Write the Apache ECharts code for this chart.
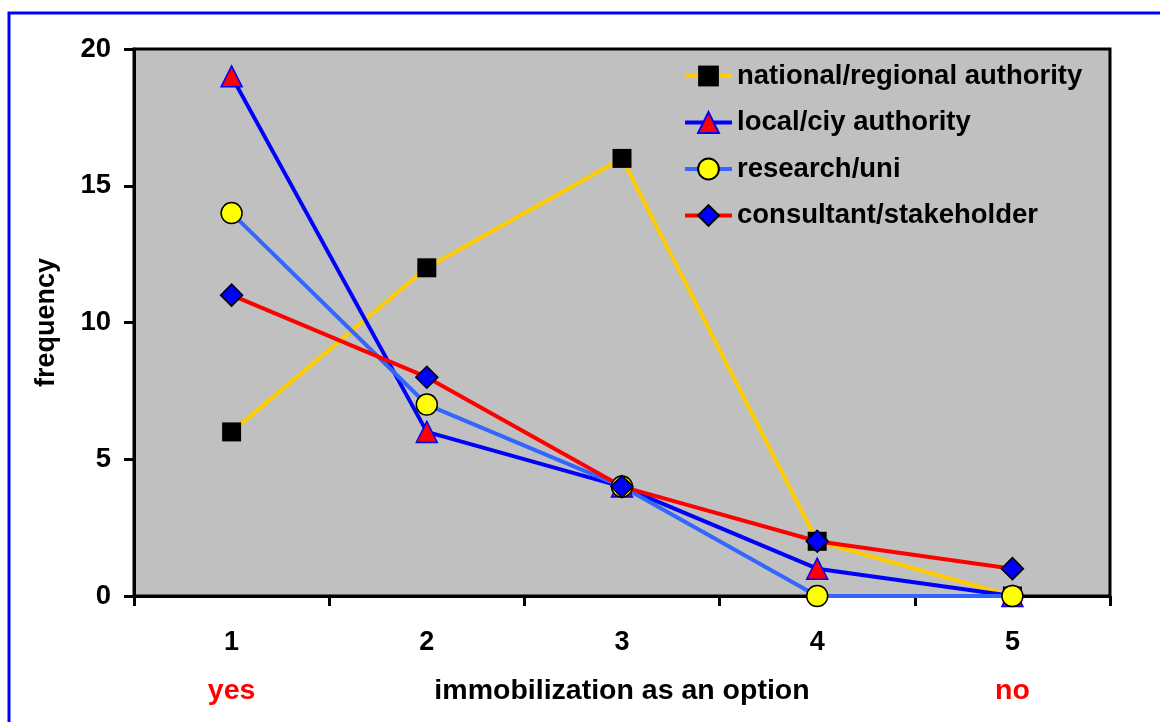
<!DOCTYPE html>
<html>
<head>
<meta charset="utf-8">
<script src="https://cdn.jsdelivr.net/npm/echarts@6/dist/echarts.min.js"></script>
<style>
html,body{margin:0;padding:0;background:#fff;}
#chart{width:1160px;height:722px;}
</style>
</head>
<body>
<div id="chart"></div>
<script>
const categories = ['1', '2', '3', '4', '5'];
const scaleLabels = ['yes', '', 'immobilization as an option', '', 'no'];
const seriesNames = ['national/regional authority', 'local/ciy authority', 'research/uni', 'consultant/stakeholder'];
const national = [6, 12, 16, 2, 0];
const local = [19, 6, 4, 1, 0];
const research = [14, 7, 4, 0, 0];
const consultant = [11, 8, 4, 2, 1];
const yMin = 0, yMax = 20, yStep = 5;

const FONT = '"Liberation Sans", Arial, sans-serif';
const chart = echarts.init(document.getElementById('chart'));

function mkSeries(name, data, lineColor, symbol, size, fill, border, bw) {
  return {
    name: name, type: 'line', data: data, clip: false,
    symbol: symbol, symbolSize: size,
    lineStyle: { color: lineColor, width: 4 },
    itemStyle: { color: fill, borderColor: border, borderWidth: bw },
    emphasis: { disabled: true },
    animation: false
  };
}

chart.setOption({
  animation: false,
  backgroundColor: '#ffffff',
  textStyle: { fontFamily: FONT },
  graphic: [{
    type: 'rect', silent: true,
    shape: { x: 9, y: 13, width: 1300, height: 900 },
    style: { fill: 'none', stroke: '#0000ff', lineWidth: 3 }
  }],
  grid: {
    left: 134, right: 50, top: 49, bottom: 126,
    show: true, backgroundColor: '#c0c0c0', borderColor: '#000', borderWidth: 3
  },
  legend: {
    orient: 'vertical', left: 683, top: 62, padding: 0,
    itemWidth: 47, itemHeight: 26, itemGap: 18.5,
    lineStyle: { width: 4 },
    textStyle: { fontFamily: FONT, fontWeight: 'bold', fontSize: 27.5, color: '#000' },
    data: seriesNames
  },
  xAxis: {
    type: 'category', data: categories, boundaryGap: true,
    axisLine: { lineStyle: { color: '#000', width: 3 } },
    axisTick: { show: true, length: 10, lineStyle: { color: '#000', width: 3 } },
    axisLabel: {
      interval: 0, margin: 23,
      formatter: function (v, i) {
        const s = scaleLabels[i];
        const style = (s === 'yes' || s === 'no') ? 'red' : 'blk';
        return '{n|' + v + '}\n{' + style + '|' + (s || ' ') + '}';
      },
      rich: {
        n: { fontFamily: FONT, fontWeight: 'bold', fontSize: 27, color: '#000', lineHeight: 47 },
        red: { fontFamily: FONT, fontWeight: 'bold', fontSize: 28.5, color: '#ff0000', lineHeight: 51 },
        blk: { fontFamily: FONT, fontWeight: 'bold', fontSize: 28.5, color: '#000', lineHeight: 51 }
      }
    }
  },
  yAxis: {
    type: 'value', min: yMin, max: yMax, interval: yStep,
    name: 'frequency', nameLocation: 'middle', nameGap: 74, nameRotate: 90,
    nameTextStyle: { fontFamily: FONT, fontWeight: 'bold', fontSize: 27, color: '#000' },
    axisLine: { show: true, lineStyle: { color: '#000', width: 3 } },
    axisTick: { show: true, length: 10, lineStyle: { color: '#000', width: 3 } },
    axisLabel: { margin: 23, fontFamily: FONT, fontWeight: 'bold', fontSize: 27.5, color: '#000' },
    splitLine: { show: false }
  },
  series: [
    mkSeries(seriesNames[0], national, '#ffcc00', 'rect', 19, '#000000', '#000000', 0),
    mkSeries(seriesNames[1], local, '#0000ff', 'triangle', 21, '#ff0000', '#0000ff', 1.5),
    mkSeries(seriesNames[2], research, '#3366ff', 'circle', 21, '#ffff00', '#000000', 1.5),
    mkSeries(seriesNames[3], consultant, '#ff0000', 'diamond', 22, '#0000ff', '#000000', 1.5)
  ]
});
</script>
</body>
</html>
